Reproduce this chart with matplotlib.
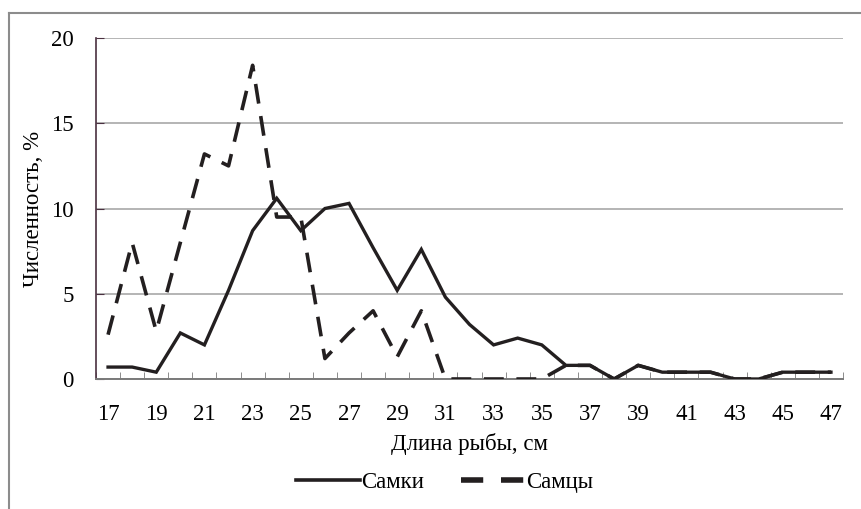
import matplotlib
matplotlib.use('Agg')
import matplotlib.pyplot as plt
from matplotlib.lines import Line2D

plt.rcParams['font.family'] = ['Liberation Serif', 'DejaVu Serif']

# Data
lengths = list(range(17, 48))
females = [0.7, 0.7, 0.4, 2.7, 2.0, 5.2, 8.7, 10.6, 8.7, 10.0, 10.3, 7.7, 5.2, 7.6, 4.8, 3.2,
           2.0, 2.4, 2.0, 0.8, 0.8, 0.0, 0.8, 0.4, 0.4, 0.4, 0.0, 0.0, 0.4, 0.4, 0.4]
males = [2.6, 8.0, 2.8, 8.0, 13.2, 12.5, 18.4, 9.5, 9.5, 1.2, 2.7, 4.0, 1.3, 4.0, 0.0, 0.0,
         0.0, 0.0, 0.0, 0.8, 0.8, 0.0, 0.8, 0.4, 0.4, 0.4, 0.0, 0.0, 0.4, 0.4, 0.4]
yticks = [0, 5, 10, 15, 20]

fig = plt.figure(figsize=(8.61, 5.09), dpi=100)
ax = fig.add_axes([0.1115, 0.2554, 0.8676, 0.6699])

x = list(range(len(lengths)))
line_col = '#231f20'
ax.plot(x, females, color=line_col, lw=2.4, solid_joinstyle='miter', label='Самки', zorder=3)
ax.plot(x, males, color=line_col, lw=2.6, linestyle=(0, (5.5, 3.5)), label='Самцы', zorder=4)

ax.set_xlim(-0.5, len(lengths) - 0.5)
ax.set_ylim(0, 20)
ax.set_yticks(yticks)
ax.set_xticks(x[::2])
ax.set_xticklabels([str(v) for v in lengths[::2]])
ax.set_xticks([i - 0.5 for i in range(len(lengths) + 1)], minor=True)

ax.grid(axis='y', color='#b4b4b4', lw=1.4)
ax.set_axisbelow(True)

for s in ['top', 'right']:
    ax.spines[s].set_visible(False)
ax.spines['left'].set_color('#4a3040')
ax.spines['left'].set_linewidth(1.2)
ax.spines['bottom'].set_color('#7a7a7a')
ax.spines['bottom'].set_linewidth(1.4)

ax.tick_params(axis='y', direction='in', length=6, color='#4a3040', labelsize=16.5, pad=16)
ax.tick_params(axis='x', which='major', length=0, labelsize=16.5, pad=18)
ax.tick_params(axis='x', which='minor', direction='in', length=5, color='#7a7a7a')

ax.set_xlabel('Длина рыбы, см', fontsize=16.5, labelpad=6)
ax.set_ylabel('Численность, %', fontsize=16.5, labelpad=5)

handles = [Line2D([], [], color=line_col, lw=2.6),
           Line2D([], [], color=line_col, lw=4, linestyle=(0, (4, 3.2)))]
fig.legend(handles, ['Самки', 'Самцы'], loc='center', bbox_to_anchor=(0.516, 0.053),
           ncol=2, frameon=False, fontsize=16.5, handlelength=2.8, handletextpad=0.05,
           columnspacing=1.6)

# outer chart border (left and top visible)
fig.add_artist(Line2D([9 / 861, 9 / 861], [0, 1 - 13 / 509], color='#8c8c8c', lw=1.5,
                      transform=fig.transFigure))
fig.add_artist(Line2D([9 / 861, 1], [1 - 13 / 509, 1 - 13 / 509], color='#8c8c8c', lw=1.5,
                      transform=fig.transFigure))

fig.savefig('out.png', dpi=100)
